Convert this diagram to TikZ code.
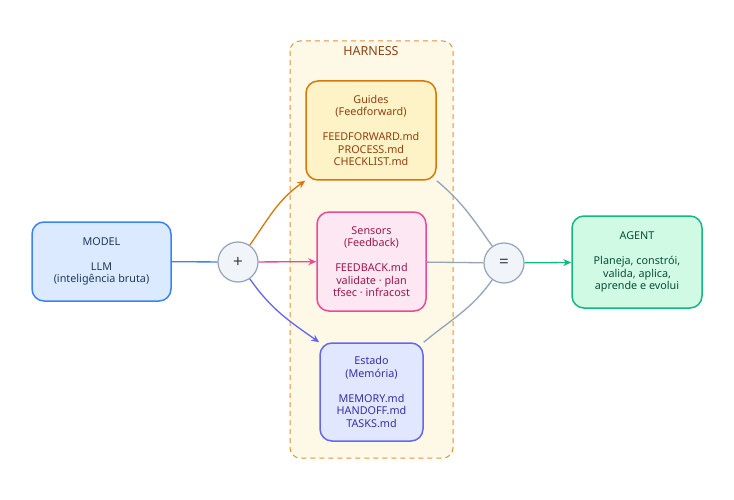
\documentclass[tikz,border=0pt]{standalone}
\usepackage{fontspec}
\setmainfont{Noto Sans}
\usetikzlibrary{arrows.meta}
\definecolor{hfill}{HTML}{FEF9E7}
\definecolor{hdraw}{HTML}{E0913A}
\definecolor{htext}{HTML}{8B4513}
\definecolor{gfill}{HTML}{FEF3C7}
\definecolor{gdraw}{HTML}{D97706}
\definecolor{gtext}{HTML}{92400E}
\definecolor{sfill}{HTML}{FCE7F3}
\definecolor{sdraw}{HTML}{EC4899}
\definecolor{stext}{HTML}{9D174D}
\definecolor{efill}{HTML}{E0E7FF}
\definecolor{edraw}{HTML}{6366F1}
\definecolor{etext}{HTML}{3730A3}
\definecolor{mfill}{HTML}{DBEAFE}
\definecolor{mdraw}{HTML}{3B82F6}
\definecolor{mtext}{HTML}{1E3A5F}
\definecolor{afill}{HTML}{D1FAE5}
\definecolor{adraw}{HTML}{10B981}
\definecolor{atext}{HTML}{064E3B}
\definecolor{opfill}{HTML}{F1F5F9}
\definecolor{opdraw}{HTML}{94A3B8}
\definecolor{optext}{HTML}{334155}
\tikzset{
  box/.style={draw, rounded corners=12pt, line width=1.5pt, align=center,
    font=\fontsize{10.8}{12.5}\selectfont, inner sep=0pt},
  op/.style={circle, draw=opdraw, fill=opfill, line width=1.2pt,
    minimum size=40pt, inner sep=0pt, text=optext, font=\fontsize{17}{17}\selectfont},
  flow/.style={line width=1.3pt, -{Stealth[length=8pt,width=7pt]}},
  merge/.style={line width=1.3pt, draw=opdraw}
}
\begin{document}
\begin{tikzpicture}[x=1pt,y=-1pt]
\useasboundingbox (0,0) rectangle (734,500);

%Harness
\draw [hdraw, fill=hfill, line width=1pt, dash pattern=on 5pt off 4pt, rounded corners=10pt] (290,41) rectangle (453,458);
\node [text=htext, font=\fontsize{12.5}{14}\selectfont] (harness) at (371,51) {HARNESS};

%Boxes
\node [box, fill=gfill, draw=gdraw, text=gtext, minimum width=130pt, minimum height=99pt] (guides) at (371,130.5) {Guides\\(Feedforward)\\[12.5pt]FEEDFORWARD.md\\PROCESS.md\\CHECKLIST.md};
\node [box, fill=sfill, draw=sdraw, text=stext, minimum width=109pt, minimum height=99pt] (sensors) at (371.5,261.5) {Sensors\\(Feedback)\\[12.5pt]FEEDBACK.md\\validate · plan\\tfsec · infracost};
\node [box, fill=efill, draw=edraw, text=etext, minimum width=103pt, minimum height=98pt] (estado) at (371.5,392) {Estado\\(Memória)\\[12.5pt]MEMORY.md\\HANDOFF.md\\TASKS.md};
\node [box, fill=mfill, draw=mdraw, text=mtext, minimum width=139pt, minimum height=79pt] (model) at (101.5,261.5) {MODEL\\[12.5pt]LLM\\(inteligência bruta)};
\node [box, fill=afill, draw=adraw, text=atext, minimum width=130pt, minimum height=92pt] (agent) at (637,262) {AGENT\\[12.5pt]Planeja, constrói,\\valida, aplica,\\aprende e evolui};

%Operators
\node [op] (plus) at (238,262) {+};
\node [op] (equals) at (504,263) {=};

%Connectors
\draw [line width=1.3pt, mdraw] (model) -- (plus);
\draw [flow, gdraw] (plus) to[out=55, in=215] (guides.south west);
\draw [flow, sdraw] (plus) -- (sensors);
\draw [flow, edraw] (plus) to[out=-55, in=145] (estado.north west);
\draw [merge] (guides.south east) to[out=-40, in=125] (equals);
\draw [merge] (sensors) -- (equals);
\draw [merge] (estado.north east) to[out=40, in=-125] (equals);
\draw [flow, adraw] (equals) -- (agent);
\end{tikzpicture}
\end{document}
